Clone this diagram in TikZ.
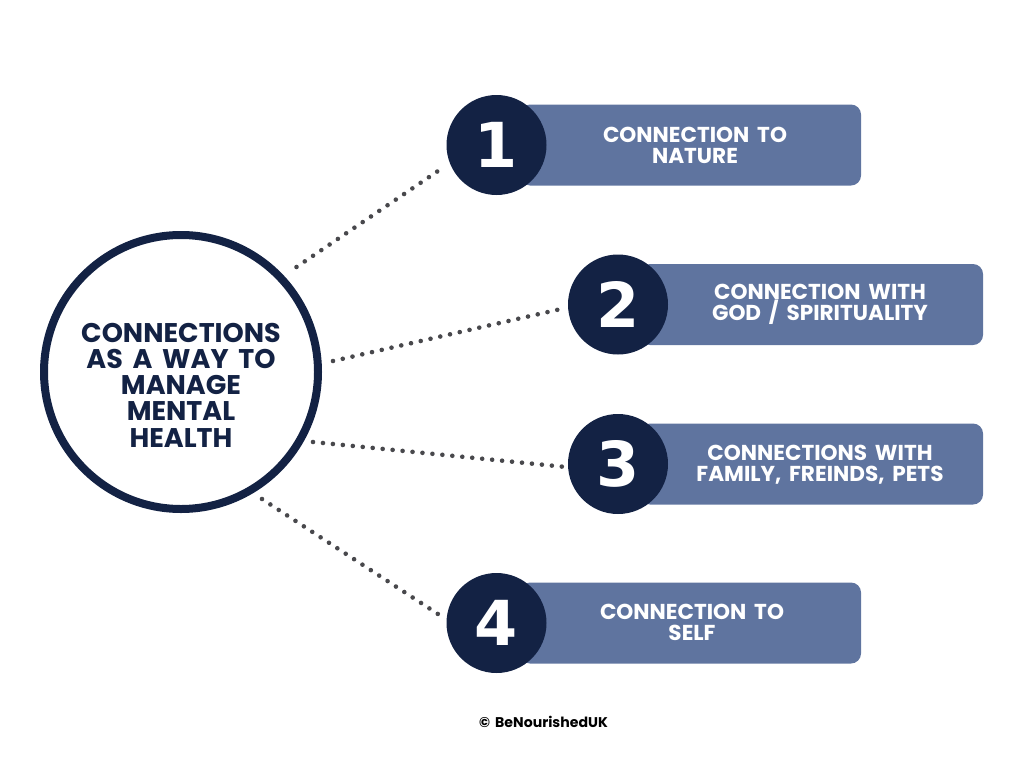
\documentclass[tikz,border=0pt]{standalone}
\usepackage{fontspec}
\setmainfont{Poppins}[BoldFont={Poppins Bold},WordSpace=1.7]
\newfontfamily\numfont{DejaVu Sans}[BoldFont={DejaVu Sans Bold}]
\definecolor{navy}{HTML}{132244}
\definecolor{slate}{HTML}{5F749F}
\definecolor{dotc}{HTML}{48484C}
\tikzset{
 x=1pt,y=-1pt,
 hub/.style={circle,draw=navy,line width=8pt,fill=white,minimum size=274pt,inner sep=0pt},
 hubtext/.style={align=center,text=navy,inner sep=0pt,font=\bfseries\fontsize{27}{26.2}\selectfont},
 bar/.style={rectangle,rounded corners=10pt,fill=slate,minimum height=81pt,inner sep=0pt},
 bartext/.style={align=center,text=white,inner sep=0pt,font=\bfseries\fontsize{21.6}{21}\selectfont},
 num/.style={circle,fill=navy,minimum size=100pt,inner sep=0pt,text=white,font=\numfont\bfseries\fontsize{62}{62}\selectfont},
 link/.style={draw=dotc,line width=4.6pt,line cap=round,dash pattern=on 0pt off 10pt},
}
\begin{document}
\begin{tikzpicture}
\useasboundingbox (0,0) rectangle (1024,768);
\node[hub] (c) at (181,372) {};
\node[hubtext] (ct) at (181,385) {CONNECTIONS\\AS A WAY TO\\MANAGE\\MENTAL\\HEALTH};
\node[bar,minimum width=341pt] (b1) at (690.5,145) {};
\node[bar,minimum width=343pt] (b2) at (811.5,304.5) {};
\node[bar,minimum width=343pt] (b3) at (811.5,464) {};
\node[bar,minimum width=341pt] (b4) at (690.5,623) {};
\node[bartext] (t1) at (695,145) {CONNECTION TO\\NATURE};
\node[bartext] (t2) at (820,304.5) {CONNECTION WITH\\GOD / SPIRITUALITY};
\node[bartext] (t3) at (820,464.5) {CONNECTIONS WITH\\FAMILY, FREINDS, PETS};
\node[bartext] (t4) at (692,622) {CONNECTION TO\\SELF};
\node[num] (n1) at (496.5,145) {1};
\node[num] (n2) at (618,304.5) {2};
\node[num] (n3) at (618,464) {3};
\node[num] (n4) at (496.5,623) {4};
\node[font=\bfseries\fontsize{14.1}{16}\selectfont,text=black] (cr) at (543.5,722) {© BeNourishedUK};
\coordinate (a1) at (296.5,267); \coordinate (e1) at (438,171);
\coordinate (a2) at (333,361);   \coordinate (e2) at (561,309);
\coordinate (a3) at (313,442);   \coordinate (e3) at (566,467);
\coordinate (a4) at (262,499);   \coordinate (e4) at (441,616);
\draw[link] (a1) -- (e1);
\draw[link] (a2) -- (e2);
\draw[link] (a3) -- (e3);
\draw[link] (a4) -- (e4);
\end{tikzpicture}
\end{document}
